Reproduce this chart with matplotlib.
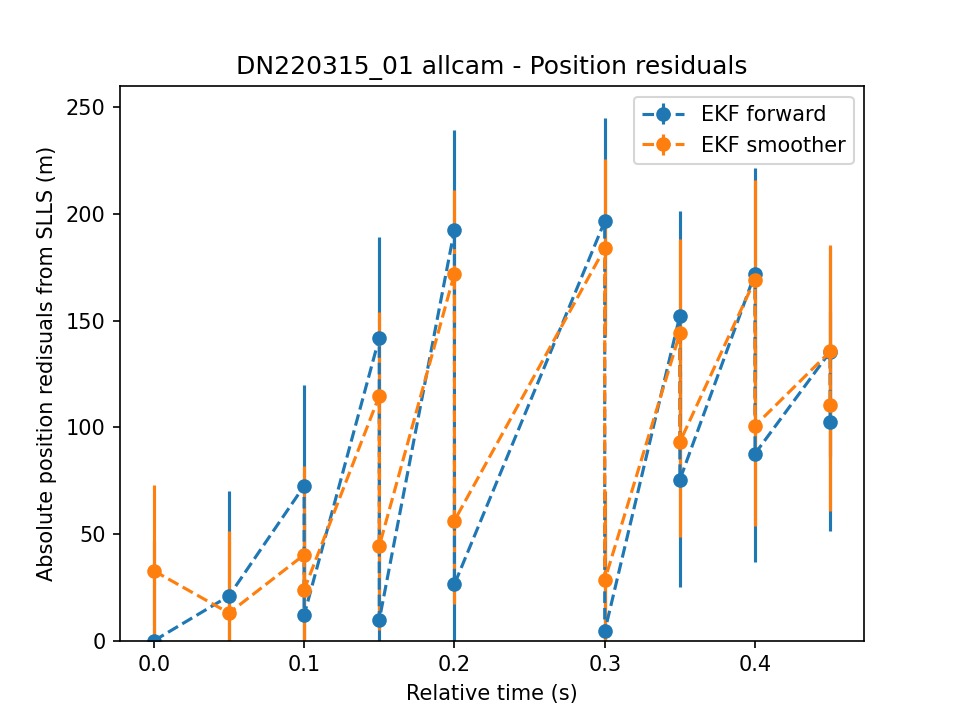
import matplotlib
matplotlib.use('Agg')
import matplotlib.pyplot as plt

# relative times (s) of each residual sample
t = [0.0, 0.05, 0.1, 0.1, 0.15, 0.15, 0.2, 0.2, 0.3, 0.3, 0.35, 0.35, 0.4, 0.4, 0.45, 0.45]

# EKF forward residuals (m) and 1-sigma errors
fwd = [0.0, 21.0, 72.6, 12.0, 142.0, 9.7, 192.6, 26.5, 196.6, 4.4, 152.4, 75.5, 172.1, 87.7, 135.5, 102.7]
fwd_err = [47.0, 49.4, 47.5, 47.5, 47.0, 47.0, 46.7, 46.7, 48.6, 48.6, 49.2, 50.4, 49.6, 50.7, 49.0, 51.4]

# EKF smoother residuals (m) and 1-sigma errors
smo = [32.8, 13.0, 40.3, 23.9, 114.8, 44.4, 172.0, 56.3, 184.0, 28.4, 144.1, 93.2, 169.3, 100.8, 135.6, 110.5]
smo_err = [40.0, 38.3, 41.5, 40.0, 39.5, 39.5, 39.3, 39.0, 41.8, 41.8, 44.3, 44.7, 46.6, 47.2, 49.8, 49.5]

plt.figure(figsize=(6.4, 4.8), dpi=150)
plt.errorbar(t, fwd, yerr=fwd_err, fmt='o--', label='EKF forward')
plt.errorbar(t, smo, yerr=smo_err, fmt='o--', label='EKF smoother')
plt.ylim(bottom=0)
plt.legend(loc='upper right')
plt.title('DN220315_01 allcam - Position residuals')
plt.xlabel('Relative time (s)')
plt.ylabel('Absolute position redisuals from SLLS (m)')
plt.savefig('out.png', dpi=150)
